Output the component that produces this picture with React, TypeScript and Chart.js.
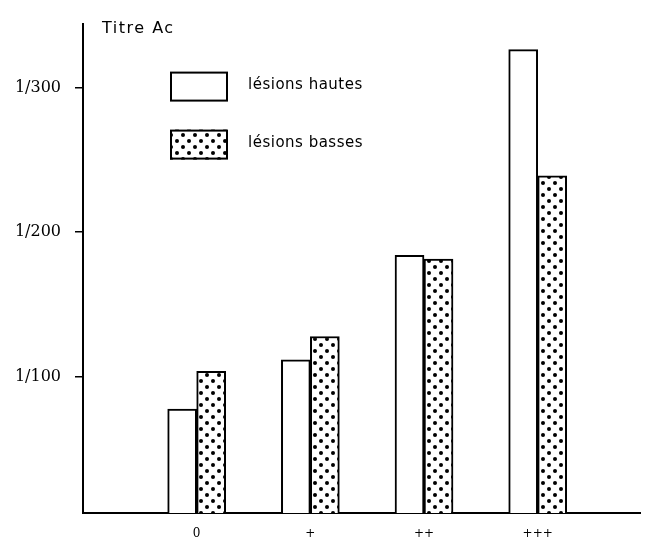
import React, { useEffect, useRef } from "react";
import { Chart, registerables } from "chart.js";

Chart.register(...registerables);

// ---- data ----
const categories = ["0", "+", "++", "+++"];
const categoryPositions = [1, 2, 3, 4];
const hautes = [78, 112, 184, 326];
const basses = [104, 128, 181.5, 239];
const yTickValues = [100, 200, 300];
const yTickLabels = ["1/100", "1/200", "1/300"];
const seriesNames = ["lésions hautes", "lésions basses"];
const axisTitle = "Titre Ac";

function makeDots(): CanvasPattern | string {
  const c = document.createElement("canvas");
  c.width = 12;
  c.height = 12;
  const g = c.getContext("2d");
  if (!g) return "#888";
  g.fillStyle = "#fff";
  g.fillRect(0, 0, 12, 12);
  g.fillStyle = "#000";
  [
    [3, 3],
    [9, 9],
  ].forEach(([x, y]) => {
    g.beginPath();
    g.arc(x, y, 2, 0, Math.PI * 2);
    g.fill();
  });
  return g.createPattern(c, "repeat") || "#888";
}

const overlayPlugin = {
  id: "overlay",
  afterDraw(chart: any) {
    const { ctx, chartArea } = chart;
    ctx.save();
    ctx.fillStyle = "#000";
    ctx.textBaseline = "middle";
    ctx.textAlign = "left";
    // axis title
    ctx.font = "16px 'DejaVu Sans'";
    (ctx as any).letterSpacing = "1.5px";
    ctx.fillText(axisTitle, chartArea.left + 19, chartArea.top + 5);
    // legend
    (ctx as any).letterSpacing = "0.5px";
    ctx.font = "15px 'DejaVu Sans'";
    chart.data.datasets.forEach((ds: any, i: number) => {
      const bx = chartArea.left + 87;
      const by = chartArea.top + 48 + i * 58;
      const bw = 58;
      const bh = 30;
      ctx.fillStyle = ds.backgroundColor;
      ctx.fillRect(bx, by, bw, bh);
      ctx.strokeStyle = ds.borderColor;
      ctx.lineWidth = 2;
      ctx.strokeRect(bx + 1, by + 1, bw - 2, bh - 2);
      ctx.fillStyle = "#000";
      ctx.fillText(ds.label, bx + 78, by + bh / 2 - 1);
    });
    ctx.restore();
  },
};

export default function App() {
  const ref = useRef<HTMLCanvasElement | null>(null);

  useEffect(() => {
    if (!ref.current) return;
    const dots = makeDots();
    const chart = new Chart(ref.current, {
      type: "bar",
      data: {
        datasets: [
          {
            label: seriesNames[0],
            data: categoryPositions.map((x, i) => ({ x, y: hautes[i] })),
            backgroundColor: "#ffffff",
            borderColor: "#000000",
            borderWidth: 2,
            borderSkipped: "bottom",
            barThickness: 29,
          } as any,
          {
            label: seriesNames[1],
            data: categoryPositions.map((x, i) => ({ x, y: basses[i] })),
            backgroundColor: dots as any,
            borderColor: "#000000",
            borderWidth: 2,
            borderSkipped: "bottom",
            barThickness: 29,
          } as any,
        ],
      },
      options: {
        animation: false,
        responsive: false,
        devicePixelRatio: 1,
        layout: { padding: { top: 20, right: 6, left: 0, bottom: 0 } },
        plugins: {
          legend: { display: false },
          tooltip: { enabled: false },
          title: { display: false },
        },
        scales: {
          x: {
            type: "linear",
            offset: false,
            min: 0,
            max: 4.9,
            grid: { display: false, drawTicks: false, offset: false },
            border: { display: true, color: "#000", width: 2 },
            ticks: {
              color: "#000",
              font: { family: "'DejaVu Serif'", size: 12 },
              padding: 14,
              maxRotation: 0,
              autoSkip: false,
              callback: (v: any) => {
                const idx = categoryPositions.indexOf(Number(v));
                return idx >= 0 ? categories[idx] : "";
              },
            },
            afterBuildTicks: (s: any) => {
              s.ticks = categoryPositions.map((v) => ({ value: v }));
            },
            afterFit: (s: any) => {
              s.height = 25;
            },
          } as any,
          y: {
            type: "linear",
            min: 6.2,
            max: 344,
            grid: {
              display: true,
              drawOnChartArea: false,
              drawTicks: true,
              tickLength: 8,
              color: "#000",
              lineWidth: 1.5,
            },
            border: { display: true, color: "#000", width: 2 },
            ticks: {
              color: "#000",
              font: { family: "'DejaVu Serif'", size: 16 },
              padding: 14,
              autoSkip: false,
              callback: (v: any) => {
                const idx = yTickValues.indexOf(Number(v));
                return idx >= 0 ? yTickLabels[idx] : "";
              },
            },
            afterBuildTicks: (s: any) => {
              s.ticks = yTickValues.map((v) => ({ value: v }));
            },
            afterFit: (s: any) => {
              s.width = 83;
            },
          } as any,
        },
      },
      plugins: [overlayPlugin],
    });
    return () => chart.destroy();
  }, []);

  return (
    <div style={{ position: "absolute", left: 0, top: 0, width: 646, height: 538, background: "#fff" }}>
      <canvas ref={ref} width={646} height={538} style={{ width: 646, height: 538, display: "block" }} />
    </div>
  );
}
